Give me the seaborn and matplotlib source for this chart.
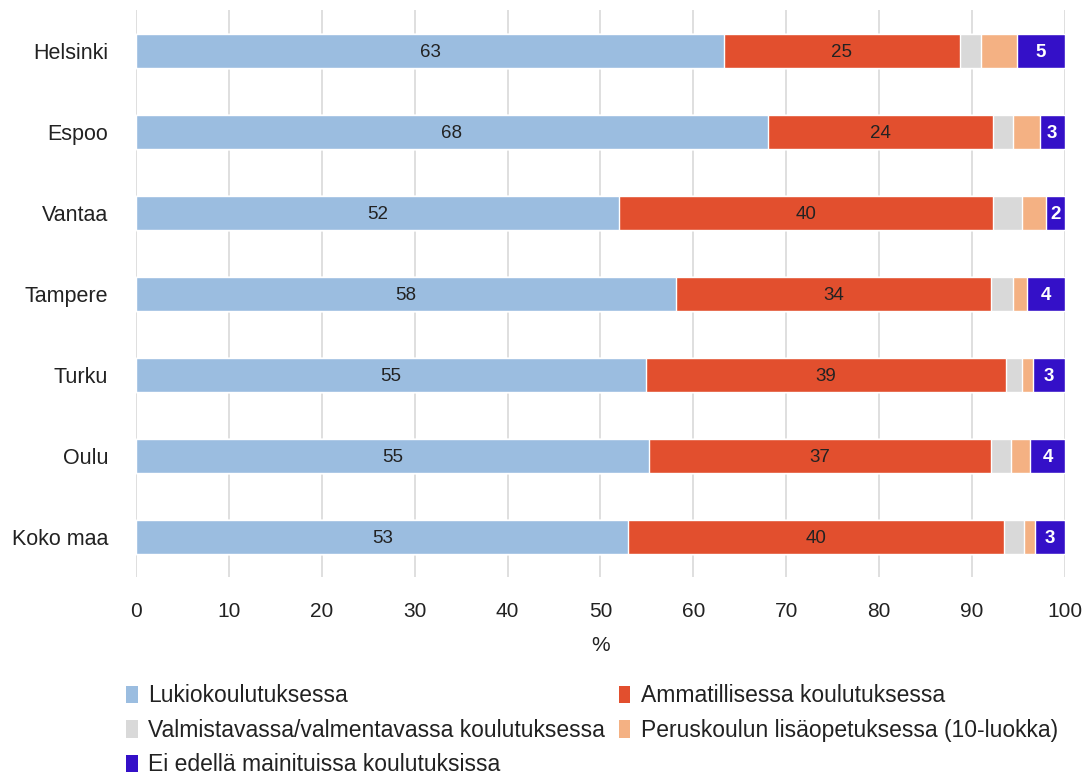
import numpy as np
import pandas as pd
import seaborn as sns
import matplotlib.pyplot as plt
from matplotlib.patches import Patch

# --- data ---
cities = ['Helsinki', 'Espoo', 'Vantaa', 'Tampere', 'Turku', 'Oulu', 'Koko maa']
series = ['Lukiokoulutuksessa',
          'Ammatillisessa koulutuksessa',
          'Valmistavassa/valmentavassa koulutuksessa',
          'Peruskoulun lisäopetuksessa (10-luokka)',
          'Ei edellä mainituissa koulutuksissa']
lukio = [63.3, 68.0, 52.0, 58.1, 54.9, 55.2, 53.0]
ammat = [25.4, 24.3, 40.3, 34.0, 38.8, 36.9, 40.4]
valmist = [2.3, 2.1, 3.1, 2.3, 1.7, 2.1, 2.2]
perus = [3.8, 2.9, 2.6, 1.5, 1.2, 2.1, 1.2]
muu = [5.2, 2.7, 2.0, 4.1, 3.4, 3.7, 3.2]
colors = ['#9bbde0', '#e24f2e', '#d9d9d9', '#f4b183', '#3410c8']
label_series = [0, 1, 4]
label_colors = {0: '#222222', 1: '#222222', 4: 'white'}

df = pd.DataFrame(dict(zip(series, [lukio, ammat, valmist, perus, muu])), index=cities)
cum = df.cumsum(axis=1)

sns.set_theme(style='white')
plt.rcParams['font.family'] = ['Liberation Sans', 'DejaVu Sans']

fig = plt.figure(figsize=(10.91, 7.81), dpi=100)
ax = fig.add_axes([0.1247, 0.261, 0.8513, 0.726])

# stacked bars: draw cumulative totals, biggest first
for i in reversed(range(len(series))):
    sns.barplot(x=cum.iloc[:, i].values, y=cities, orient='h', color=colors[i],
                width=0.42, saturation=1, ax=ax, zorder=3)

# value labels in segment centres
for i in label_series:
    vals = df.iloc[:, i].values
    mids = cum.iloc[:, i].values - vals / 2
    for j, (m, v) in enumerate(zip(mids, vals)):
        ax.text(m, j + 0.02, f'{v:.0f}', ha='center', va='center', fontsize=13.5,
                color=label_colors[i], zorder=5,
                fontweight='bold' if i == 4 else 'normal')

ax.set_xlim(0, 100)
ax.set_ylim(6.5, -0.5)
ax.set_xticks(range(0, 101, 10))
ax.xaxis.grid(True, color='#d9d9d9', linewidth=1.2, zorder=0)
ax.yaxis.grid(False)
for s in ax.spines.values():
    s.set_visible(False)
ax.tick_params(axis='x', labelsize=15, colors='#222222', pad=18, length=0)
ax.tick_params(axis='y', length=0, pad=20)
for t in ax.get_yticklabels():
    t.set_fontsize(15.5)
    t.set_color('#222222')
ax.set_xlabel('%', fontsize=15, color='#222222', labelpad=11)
ax.set_ylabel('')

# legend filled row by row like the original
order = [0, 2, 4, 1, 3]
handles = [Patch(facecolor=colors[k], edgecolor='none') for k in order]
fig.legend(handles, [series[k] for k in order], loc='upper left',
           bbox_to_anchor=(0.097, 0.15), ncol=2, frameon=False, fontsize=16.5,
           handlelength=0.5, handleheight=0.8, handletextpad=0.45,
           columnspacing=0.6, labelspacing=0.5, labelcolor='#222222')

fig.savefig('out.png', dpi=100)
